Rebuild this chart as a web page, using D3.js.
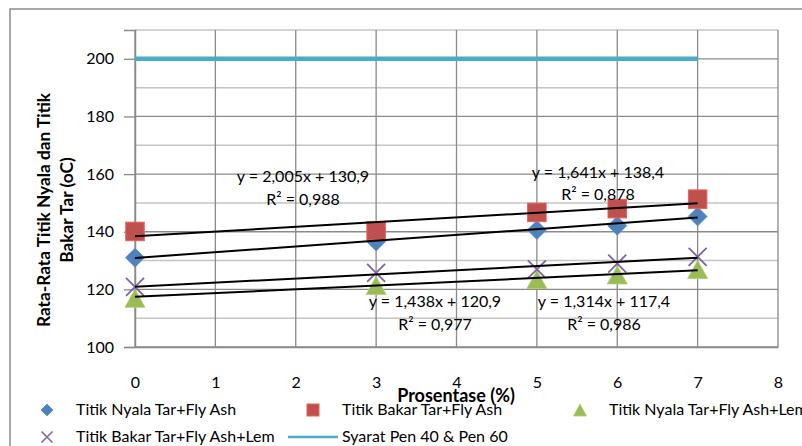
<!DOCTYPE html>
<html>
<head>
<meta charset="utf-8">
<script src="https://cdn.jsdelivr.net/npm/d3@7"></script>
<style>
  html, body { margin: 0; padding: 0; background: #fff; }
  svg text { font-family: Lato, "Open Sans", sans-serif; fill: #000; }
</style>
</head>
<body>
<svg id="chart" width="802" height="446"></svg>
<script>
// ---- data ----
const xValues = [0, 3, 5, 6, 7];
const nyalaFlyAsh = [131, 136.6, 140.6, 142.1, 145.3];
const bakarFlyAsh = [140.1, 140.3, 146.7, 148.0, 151.3];
const nyalaFlyAshLem = [116.9, 121.3, 123.4, 125.0, 126.9];
const bakarFlyAshLem = [120.9, 125.7, 126.9, 128.9, 131.3];
const syaratX = [0, 7];
const syaratY = [200, 200];

const seriesNames = ["Titik Nyala Tar+Fly Ash", "Titik Bakar Tar+Fly Ash", "Titik Nyala Tar+Fly Ash+Lem", "Titik Bakar Tar+Fly Ash+Lem", "Syarat Pen 40 & Pen 60"];
const trendSlopes = [2.005, 1.641, 1.314, 1.438];
const trendIntercepts = [130.9, 138.4, 117.4, 120.9];
const trendEquations = ["y = 2,005x + 130,9", "y = 1,641x + 138,4", "y = 1,314x + 117,4", "y = 1,438x + 120,9"];
const trendR2 = ["R² = 0,988", "R² = 0,878", "R² = 0,986", "R² = 0,977"];

const xTicks = [0, 1, 2, 3, 4, 5, 6, 7, 8];
const yTicks = [100, 120, 140, 160, 180, 200];
const yMinorGrid = [110, 130, 150, 170, 190, 210];
const xTitle = "Prosentase (%)";
const yTitleLines = ["Rata-Rata Titik Nyala dan Titik", "Bakar Tar (oC)"];

// ---- layout ----
const svg = d3.select("#chart");
const plot = { left: 135, right: 778, top: 30, bottom: 347 };
const x = d3.scaleLinear().domain([0, 8]).range([plot.left, plot.right]);
const y = d3.scaleLinear().domain([100, 210]).range([plot.bottom, plot.top]);

const colors = { blue: "#4F81BD", red: "#C0504D", green: "#9BBB59", purple: "#8064A2", cyan: "#4BACC6" };
const FS = 16;

// outer chart border
svg.append("rect").attr("x", 10).attr("y", 9).attr("width", 900).attr("height", 600)
  .attr("fill", "none").attr("stroke", "#8c8c8c").attr("stroke-width", 1.5);

// minor horizontal grid
svg.append("g").selectAll("line").data(yMinorGrid).join("line")
  .attr("x1", plot.left).attr("x2", plot.right)
  .attr("y1", d => y(d)).attr("y2", d => y(d))
  .attr("stroke", "#c4c4c4").attr("stroke-width", 1.5);

// major horizontal grid
svg.append("g").selectAll("line").data(yTicks).join("line")
  .attr("x1", plot.left).attr("x2", plot.right)
  .attr("y1", d => y(d)).attr("y2", d => y(d))
  .attr("stroke", "#8a8a8a").attr("stroke-width", 1.3);

// vertical grid
svg.append("g").selectAll("line").data(xTicks).join("line")
  .attr("x1", d => x(d)).attr("x2", d => x(d))
  .attr("y1", plot.top).attr("y2", plot.bottom)
  .attr("stroke", "#8a8a8a").attr("stroke-width", 1.3);

// y axis with ticks
const yAxis = d3.axisLeft(y).tickValues(yTicks).tickSize(11).tickPadding(10).tickFormat(d3.format("d"));
const yg = svg.append("g").attr("transform", `translate(${plot.left},0)`).call(yAxis);
yg.select(".domain").attr("stroke", "#8a8a8a").attr("stroke-width", 1.5);
yg.selectAll(".tick line").attr("stroke", "#8a8a8a").attr("stroke-width", 1.3);
yg.selectAll(".tick text").attr("font-size", FS).attr("font-family", "Lato").attr("fill", "#000");

// x axis labels (placed below, no ticks)
const xAxis = d3.axisBottom(x).tickValues(xTicks).tickSize(0).tickPadding(30).tickFormat(d3.format("d"));
const xg = svg.append("g").attr("transform", `translate(0,${plot.bottom})`).call(xAxis);
xg.select(".domain").attr("stroke", "#8a8a8a").attr("stroke-width", 1.5);
xg.selectAll(".tick text").attr("font-size", FS).attr("font-family", "Lato").attr("fill", "#000");

// axis titles
svg.append("text").attr("x", 456).attr("y", 402).attr("text-anchor", "middle")
  .attr("font-size", 18).attr("font-weight", "bold").text(xTitle);
const yt = svg.append("text").attr("transform", "translate(50,210) rotate(-90)")
  .attr("text-anchor", "middle").attr("font-size", 17.3).attr("font-weight", "bold");
yTitleLines.forEach((t, i) => yt.append("tspan").attr("x", 0).attr("dy", i === 0 ? 0 : 23).text(t));

// Syarat line
svg.append("line").attr("x1", x(syaratX[0])).attr("x2", x(syaratX[1]))
  .attr("y1", y(syaratY[0])).attr("y2", y(syaratY[1]))
  .attr("stroke", colors.cyan).attr("stroke-width", 4.5);

// markers
function diamond(g, cx, cy, r, color) {
  g.append("path").attr("d", `M${cx},${cy - r}L${cx + r},${cy}L${cx},${cy + r}L${cx - r},${cy}Z`)
    .attr("fill", color).attr("stroke", d3.color(color).brighter(0.3)).attr("stroke-width", 0.8);
}
function square(g, cx, cy, s, color) {
  g.append("rect").attr("x", cx - s / 2).attr("y", cy - s / 2).attr("width", s).attr("height", s)
    .attr("fill", color).attr("stroke", d3.color(color).brighter(0.5)).attr("stroke-width", 1);
}
function triangle(g, cx, cy, w, h, color) {
  g.append("path").attr("d", `M${cx},${cy - h / 2}L${cx + w / 2},${cy + h / 2}L${cx - w / 2},${cy + h / 2}Z`)
    .attr("fill", color).attr("stroke", d3.color(color).brighter(0.3)).attr("stroke-width", 0.8);
}
function cross(g, cx, cy, r, color, sw) {
  g.append("path").attr("d", `M${cx - r},${cy - r}L${cx + r},${cy + r}M${cx - r},${cy + r}L${cx + r},${cy - r}`)
    .attr("stroke", color).attr("stroke-width", sw).attr("fill", "none");
}

const mg = svg.append("g");
xValues.forEach((xv, i) => diamond(mg, x(xv), y(nyalaFlyAsh[i]), 9.5, colors.blue));
xValues.forEach((xv, i) => square(mg, x(xv), y(bakarFlyAsh[i]), 18.5, colors.red));
xValues.forEach((xv, i) => triangle(mg, x(xv), y(nyalaFlyAshLem[i]), 20, 18, colors.green));
xValues.forEach((xv, i) => cross(mg, x(xv), y(bakarFlyAshLem[i]), 9, colors.purple, 1.8));

// trendlines
const tg = svg.append("g");
trendSlopes.forEach((m, i) => {
  const b = trendIntercepts[i];
  tg.append("line").attr("x1", x(0)).attr("x2", x(7))
    .attr("y1", y(b)).attr("y2", y(b + m * 7))
    .attr("stroke", "#000").attr("stroke-width", 2);
});

// equation labels
const eqPos = [[303, 182, 205], [598, 178, 200], [604, 307, 330], [435, 307, 330]];
trendEquations.forEach((t, i) => {
  const p = eqPos[i];
  svg.append("text").attr("x", p[0]).attr("y", p[1]).attr("text-anchor", "middle").attr("font-size", FS).text(t);
  svg.append("text").attr("x", p[0]).attr("y", p[2]).attr("text-anchor", "middle").attr("font-size", FS).text(trendR2[i]);
});

// legend
const lg = svg.append("g");
const legItems = [
  { name: seriesNames[0], mx: 47, ty: 415, my: 410, type: "diamond" },
  { name: seriesNames[1], mx: 313, ty: 415, my: 410, type: "square" },
  { name: seriesNames[2], mx: 580, ty: 415, my: 410, type: "triangle" },
  { name: seriesNames[3], mx: 47, ty: 442, my: 437, type: "cross" },
  { name: seriesNames[4], mx: 313, ty: 442, my: 437, type: "line" }
];
legItems.forEach(it => {
  if (it.type === "diamond") diamond(lg, it.mx, it.my, 6, colors.blue);
  if (it.type === "square") square(lg, it.mx, it.my, 12, colors.red);
  if (it.type === "triangle") triangle(lg, it.mx, it.my, 13, 12, colors.green);
  if (it.type === "cross") cross(lg, it.mx, it.my, 5.5, colors.purple, 1.6);
  if (it.type === "line") lg.append("line").attr("x1", 288).attr("x2", 338).attr("y1", it.my).attr("y2", it.my)
    .attr("stroke", colors.cyan).attr("stroke-width", 2.5);
  lg.append("text").attr("x", it.type === "line" ? 342 : it.mx + 29).attr("y", it.ty)
    .attr("font-size", FS).text(it.name);
});
</script>
</body>
</html>
